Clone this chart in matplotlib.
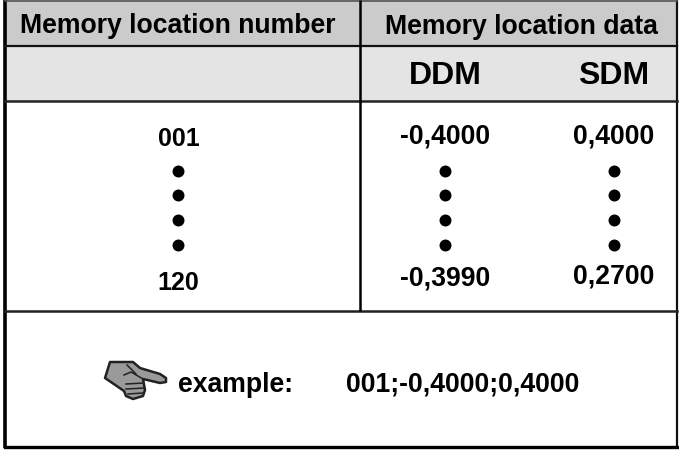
import matplotlib
matplotlib.use('Agg')
import matplotlib.pyplot as plt
from matplotlib.patches import Polygon, Rectangle

plt.rcParams['font.family'] = ['Liberation Sans', 'DejaVu Sans']

# ---- table text ----
header_left = 'Memory location number'
header_right = 'Memory location data'
sub_headers = ['DDM', 'SDM']
numbers = ['001', '120']
ddm_values = ['-0,4000', '-0,3990']
sdm_values = ['0,4000', '0,2700']
example_label = 'example:'
example_text = '001;-0,4000;0,4000'

fig = plt.figure(figsize=(6.79, 4.5), dpi=100)
ax = fig.add_axes([0, 0, 1, 1])
ax.set_xlim(0, 679)
ax.set_ylim(450, 0)
ax.axis('off')

# ---- shaded rows ----
ax.add_patch(Rectangle((5, 0), 672, 45, color='#cbcbcb', lw=0))
ax.add_patch(Rectangle((5, 45), 672, 56, color='#e4e4e4', lw=0))

# ---- grid lines ----
dark = '#111111'
ax.plot([5, 5], [0, 448], color='black', lw=2.6, solid_capstyle='butt')
ax.plot([677, 677], [0, 448], color=dark, lw=1.6, solid_capstyle='butt')
ax.plot([5, 677], [0.5, 0.5], color='#555555', lw=1.2)
ax.plot([5, 677], [46, 46], color=dark, lw=1.6)
ax.plot([5, 677], [101, 101], color='#222222', lw=1.8)
ax.plot([5, 677], [311, 311], color='#222222', lw=1.8)
ax.plot([5, 677], [447, 447], color='black', lw=2.4)
ax.plot([360, 360], [0, 311], color='black', lw=1.8, solid_capstyle='butt')

# ---- text, y is the baseline ----
def label(x, y, s, size=19.2, ha='center'):
    ax.text(x, y, s, fontsize=size, fontweight='bold', ha=ha, va='baseline', color='black')

label(178, 33, header_left)
label(521, 34, header_right)
label(445.5, 84, sub_headers[0], size=23)
label(613.5, 84, sub_headers[1], size=23)

label(179, 146, numbers[0], size=18)
label(178, 290, numbers[1], size=18)
label(445, 144, ddm_values[0])
label(445, 286, ddm_values[1])
label(614, 144, sdm_values[0])
label(614, 284, sdm_values[1])

# ---- dots ----
for col_x in [178, 445, 614]:
    ys = [171, 195, 220, 245]
    ax.plot([col_x] * len(ys), ys, 'o', color='black', ms=8.6, mew=0)

# ---- pointing hand ----
hand = [(110, 362), (133, 362), (140, 368), (160, 374), (166, 378), (166, 382), (160, 383),
        (143, 379), (145, 390), (143, 396), (133, 399), (126, 396), (124, 391), (105, 378)]
ax.add_patch(Polygon(hand, closed=True, fc='#9a9a9a', ec='#222222', lw=1.8, joinstyle='round'))
ax.plot([124, 131, 143], [375, 372, 379], color='#222222', lw=1.1)
ax.plot([126, 144], [384, 383], color='#222222', lw=1.1)
ax.plot([126, 145], [389, 388], color='#222222', lw=1.1)
ax.plot([128, 143], [394, 393], color='#222222', lw=1.1)
ax.plot([127, 136], [365, 374], color='#222222', lw=1.1)

label(178, 392, example_label, ha='left')
label(346, 392, example_text, ha='left')

fig.savefig('out.png', dpi=100)
